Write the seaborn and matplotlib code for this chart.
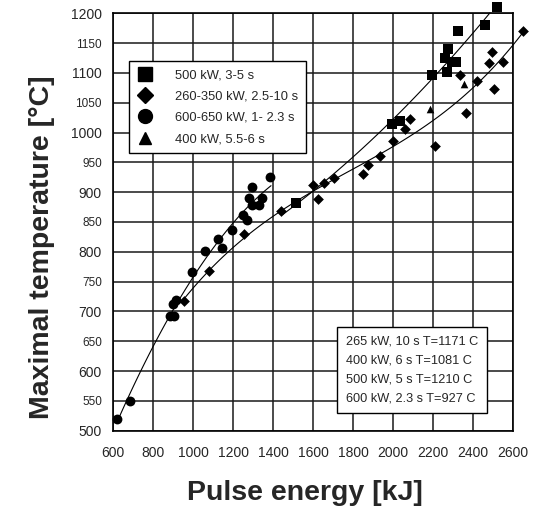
import numpy as np
import pandas as pd
import matplotlib
matplotlib.use("Agg")
import matplotlib.pyplot as plt
import seaborn as sns
from matplotlib.lines import Line2D

# ---- data ----
circ_x = [620, 685, 885, 905, 900, 915, 997, 1062, 1127, 1145, 1193, 1248, 1268, 1282, 1295, 1332, 1345, 1297, 1385]
circ_y = [520, 550, 693, 693, 712, 720, 766, 801, 821, 806, 836, 861, 853, 891, 879, 879, 891, 909, 925]

diam_x = [955, 1078, 1253, 1440, 1598, 1625, 1655, 1705, 1852, 1877, 1937, 1998, 2060, 2087, 2210,
          2337, 2365, 2420, 2480, 2493, 2505, 2548, 2650]
diam_y = [718, 768, 830, 869, 912, 888, 916, 923, 931, 945, 960, 986, 1006, 1022, 978,
          1097, 1032, 1087, 1116, 1135, 1073, 1118, 1171]

sq_x = [1513, 1993, 2035, 2193, 2270, 2262, 2273, 2293, 2315, 2326, 2460, 2518]
sq_y = [882, 1014, 1019, 1096, 1102, 1125, 1140, 1118, 1118, 1170, 1180, 1210]

tri_x = [2185, 2357]
tri_y = [1040, 1081]

legend_labels = ["500 kW, 3-5 s", "260-350 kW, 2.5-10 s", "600-650 kW, 1- 2.3 s", "400 kW, 5.5-6 s"]
note_lines = ["265 kW, 10 s T=1171 C", "400 kW, 6 s T=1081 C", "500 kW, 5 s T=1210 C", "600 kW, 2.3 s T=927 C"]

x_ticks = list(range(600, 2601, 200))
y_ticks = list(range(500, 1201, 50))

# ---- figure ----
sns.set_theme(style="white")
plt.rcParams['font.family'] = ['Liberation Sans', 'DejaVu Sans']

fig = plt.figure(figsize=(5.33, 5.08), dpi=100)
ax = fig.add_axes([0.212, 0.152, 0.7505, 0.822])

groups = [
    (sq_x, sq_y, 's', 46),
    (diam_x, diam_y, 'D', 30),
    (circ_x, circ_y, 'o', 50),
    (tri_x, tri_y, '^', 30),
]
for gx, gy, m, s in groups:
    df = pd.DataFrame({"E": gx, "T": gy})
    sns.scatterplot(data=df, x="E", y="T", marker=m, s=s, color="black",
                    edgecolor="black", linewidth=0, ax=ax, clip_on=False, zorder=4)

# trend lines (polynomial fits of each group)
def trend(xs, ys, x0, x1, deg=2):
    c = np.polyfit(xs, ys, deg)
    xx = np.linspace(x0, x1, 100)
    ax.plot(xx, np.polyval(c, xx), color="black", lw=0.8, zorder=3, clip_on=False)

trend(circ_x, circ_y, 620, 1390)
trend(diam_x, diam_y, 940, 2655, deg=3)
trend(sq_x, sq_y, 1450, 2485)

ax.set_xlim(600, 2600)
ax.set_ylim(500, 1200)
ax.set_xticks(x_ticks)
ax.set_yticks(y_ticks)
ax.set_xticklabels([str(v) for v in x_ticks], fontsize=10)
ax.set_yticklabels([str(v) for v in y_ticks])
for lab, v in zip(ax.get_yticklabels(), y_ticks):
    lab.set_fontsize(10 if v % 100 == 0 else 8.5)

ax.grid(True, color="#1a1a1a", lw=1.1)
ax.set_axisbelow(True)
for sp in ax.spines.values():
    sp.set_color("black")
    sp.set_linewidth(1.2)
ax.tick_params(axis="both", direction="out", length=5, width=1, color="black", pad=3)
ax.tick_params(axis="x", pad=6)

ax.set_xlabel("Pulse energy [kJ]", fontsize=20.5, fontweight="bold")
ax.set_ylabel("Maximal temperature [\u00b0C]", fontsize=20.5, fontweight="bold")
ax.xaxis.set_label_coords(0.48, -0.118)
ax.yaxis.set_label_coords(-0.145, 0.44)

handles = [Line2D([], [], ls="", marker=m, color="black", markersize=ms)
           for m, ms in [('s', 10), ('D', 8.5), ('o', 10), ('^', 9)]]
leg = ax.legend(handles, legend_labels, loc="upper left", bbox_to_anchor=(0.025, 0.9),
                frameon=True, fancybox=False, edgecolor="black", framealpha=1,
                fontsize=9.3, handletextpad=1.7, borderpad=0.6, labelspacing=0.72,
                handlelength=1.2)
leg.get_frame().set_linewidth(1.0)

ax.text(0.583, 0.064, "\n".join(note_lines), transform=ax.transAxes, fontsize=9.2,
        va="bottom", ha="left", linespacing=1.75,
        bbox=dict(boxstyle="square,pad=0.7", fc="white", ec="black", lw=1.0), zorder=5)

fig.savefig("out.png", dpi=100)
